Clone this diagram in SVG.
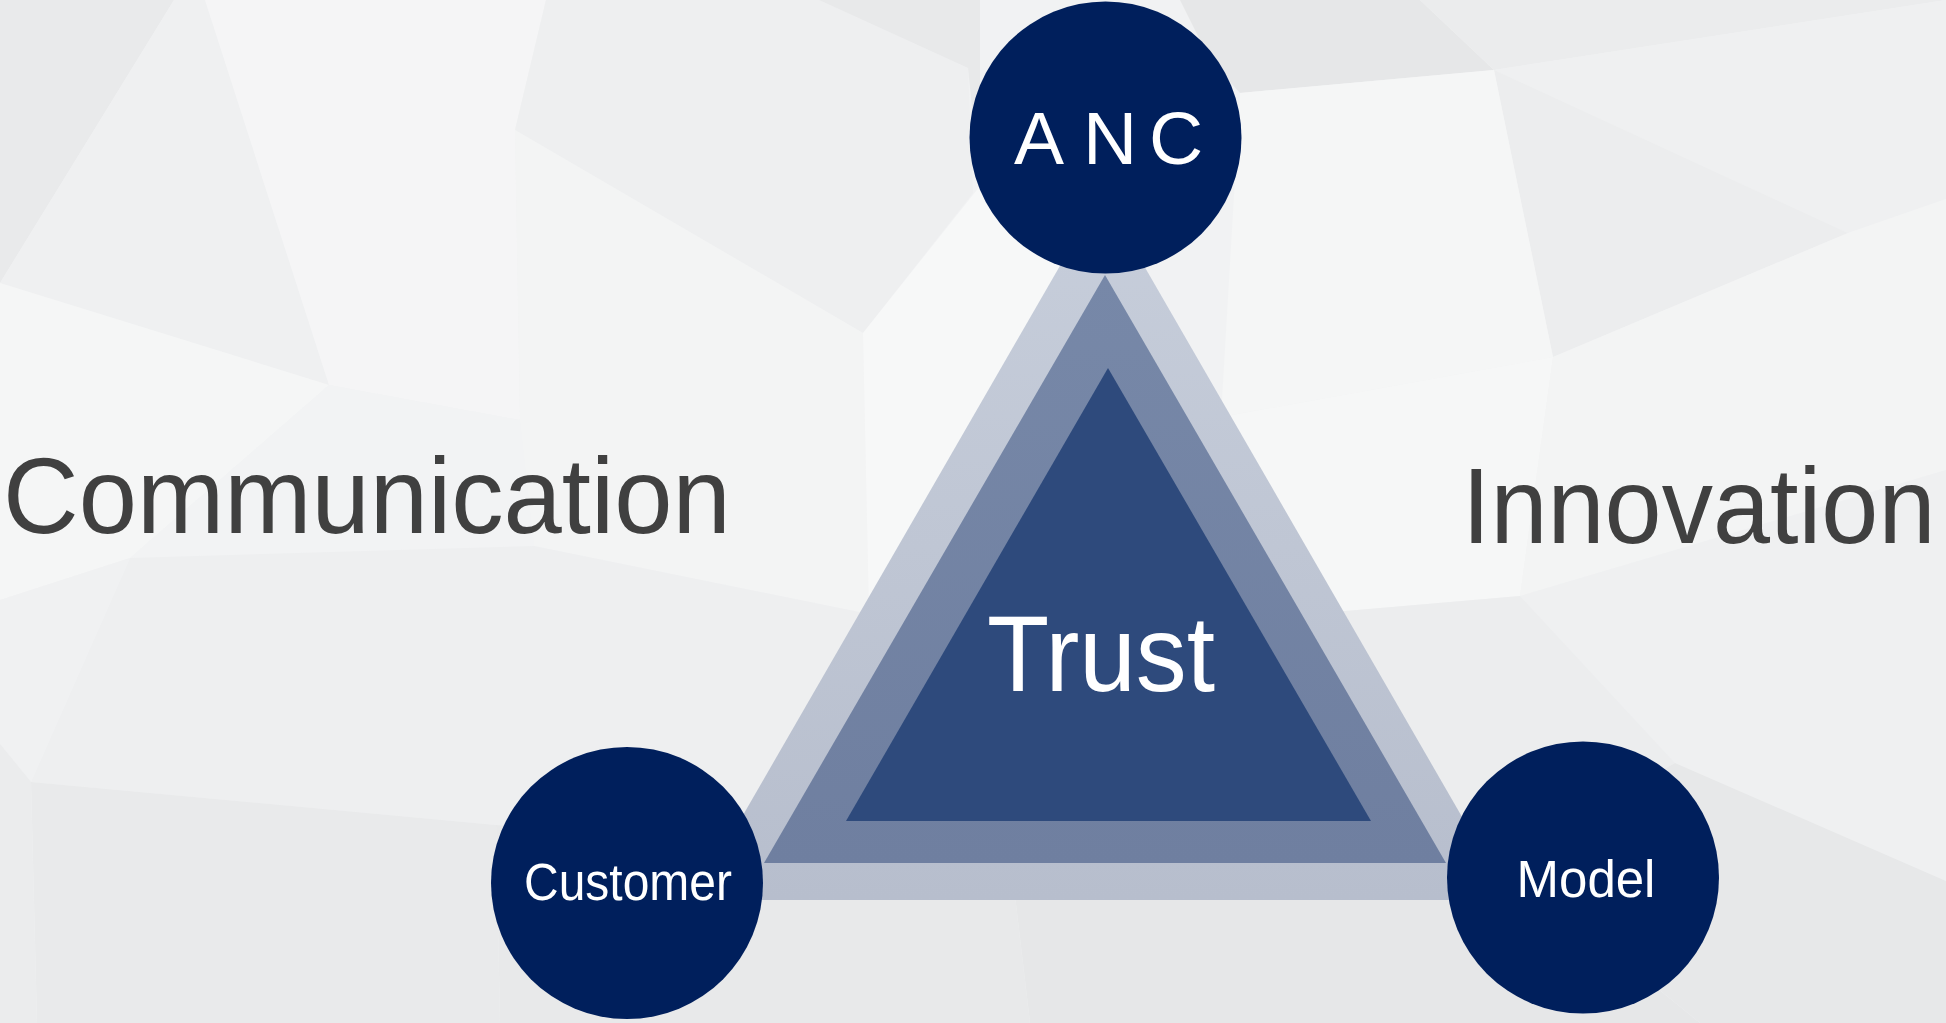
<svg xmlns="http://www.w3.org/2000/svg" width="1946" height="1023" viewBox="0 0 1946 1023">
<style>
.lbl{font-family:"Liberation Sans",Arial,sans-serif;}
.side{font-size:108px;fill:#404040;}
.node{fill:#001f5c;}
.wt{fill:#ffffff;}
</style>
<defs>
<linearGradient id="gOuter" x1="0" y1="0" x2="0" y2="1">
<stop offset="0" stop-color="#c7cedb"/>
<stop offset="1" stop-color="#b7becd"/>
</linearGradient>
<linearGradient id="gMid" x1="0" y1="0" x2="0" y2="1">
<stop offset="0" stop-color="#7788a8"/>
<stop offset="1" stop-color="#6f7fa0"/>
</linearGradient>
</defs>
<g id="background">
<rect x="0" y="0" width="1946" height="1023" fill="#f1f2f3"/>
<polygon points="0,0 174,0 0,283" fill="#e9eaeb"/>
<polygon points="174,0 205,0 329,385 0,283" fill="#eff0f1"/>
<polygon points="205,0 546,0 515,130 520,420 329,385" fill="#f5f5f6"/>
<polygon points="546,0 819,0 968,68 973,193 863,333 515,130" fill="#eeeff0"/>
<polygon points="819,0 980,0 980,186 968,68" fill="#e8e9ea"/>
<polygon points="515,130 863,333 869,614 534,546 520,420" fill="#f3f4f4"/>
<polygon points="863,333 980,186 1100,190 900,620 869,614" fill="#f7f8f8"/>
<polygon points="0,283 329,385 130,558 0,600" fill="#f5f6f6"/>
<polygon points="329,385 520,420 534,546 130,558" fill="#f2f3f4"/>
<polygon points="130,558 534,546 869,614 760,862 496,825 31,782" fill="#eeeff0"/>
<polygon points="0,600 130,558 31,782 0,744" fill="#f0f1f2"/>
<polygon points="31,782 496,825 500,1023 37,1023" fill="#e9eaeb"/>
<polygon points="0,744 31,782 37,1023 0,1023" fill="#ebeced"/>
<polygon points="496,825 1011,862 1030,1023 500,1023" fill="#e8e9ea"/>
<polygon points="1011,862 1500,860 1700,1023 1030,1023" fill="#e6e7e8"/>
<polygon points="1180,0 1420,0 1494,70 1240,93 1210,60" fill="#e6e7e8"/>
<polygon points="1420,0 1946,0 1494,70" fill="#ebeced"/>
<polygon points="1494,70 1946,0 1946,199 1848,233" fill="#eff0f1"/>
<polygon points="1494,70 1848,233 1553,357" fill="#ecedee"/>
<polygon points="1240,93 1494,70 1553,357 1221,417" fill="#f5f6f6"/>
<polygon points="1221,417 1553,357 1520,596 1241,620" fill="#f6f7f7"/>
<polygon points="1553,357 1848,233 1946,199 1946,470 1520,596" fill="#f3f4f4"/>
<polygon points="1520,596 1946,470 1946,881 1675,763" fill="#eff0f1"/>
<polygon points="1241,620 1520,596 1675,763 1500,860 1300,860" fill="#ecedee"/>
<polygon points="1675,763 1946,881 1946,1023 1700,1023 1500,860" fill="#e7e8e9"/>
</g>
<g id="connectors"></g>
<g id="trust">
<polygon points="1102,193 694,900 1510,900" fill="url(#gOuter)"/>
<polygon points="1105,275 764,863 1446,863" fill="url(#gMid)"/>
<polygon points="1108,368 846,821 1371,821" fill="#2e4a7c"/>
<text class="lbl wt" x="987" y="691" font-size="108" textLength="228" lengthAdjust="spacingAndGlyphs">Trust</text>
</g>
<g id="communication">
<text class="lbl side" transform="translate(3,533) scale(0.97,1)" x="0" y="0">Communication</text>
</g>
<g id="innovation">
<text class="lbl side" transform="translate(1462,543) scale(0.95,1)" x="0" y="0">Innovation</text>
</g>
<g id="anc">
<circle class="node" cx="1105.5" cy="137.5" r="136"/>
<text class="lbl wt" x="1014 1083 1149" y="164" font-size="75">ANC</text>
</g>
<g id="customer">
<circle class="node" cx="627" cy="883" r="136"/>
<text class="lbl wt" x="628" y="900" font-size="51" text-anchor="middle" textLength="208" lengthAdjust="spacingAndGlyphs">Customer</text>
</g>
<g id="model">
<circle class="node" cx="1583" cy="877.5" r="136"/>
<text class="lbl wt" x="1586" y="897" font-size="51" text-anchor="middle">Model</text>
</g>
</svg>
